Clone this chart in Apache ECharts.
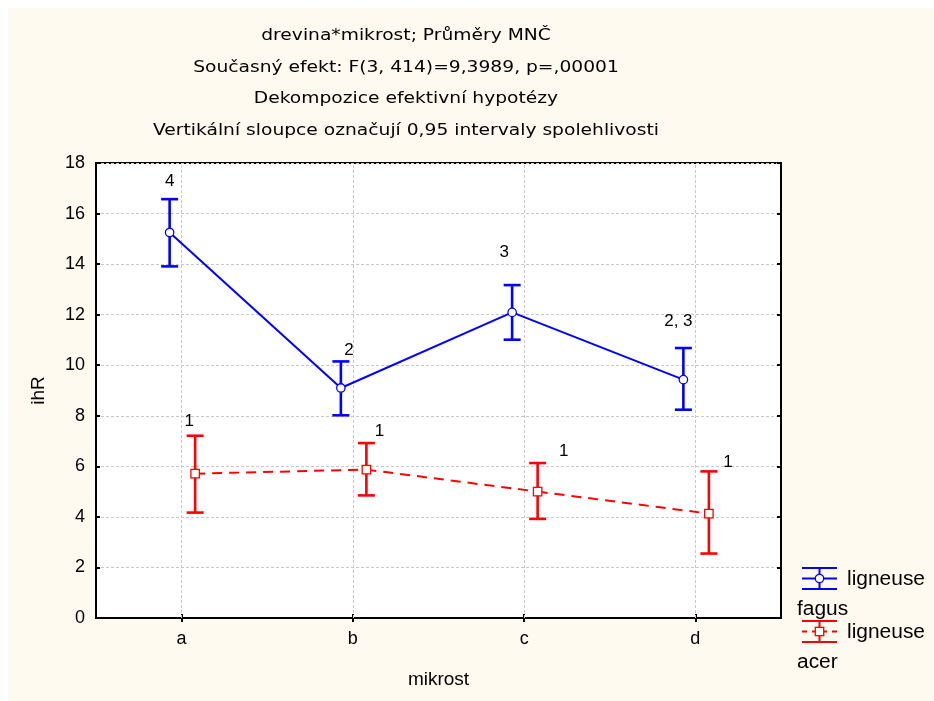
<!DOCTYPE html>
<html>
<head>
<meta charset="utf-8">
<script src="https://cdn.jsdelivr.net/npm/echarts@6/dist/echarts.min.js"></script>
<style>
html,body{margin:0;padding:0;background:#fff;}
#chart{width:934px;height:701px;}
</style>
</head>
<body>
<div id="chart"></div>
<script>
const categories = ['a', 'b', 'c', 'd'];
const yTicks = [0, 2, 4, 6, 8, 10, 12, 14, 16, 18];
const fagusMean = [15.25, 9.10, 12.09, 9.43];
const fagusLow  = [13.91, 8.02, 11.01, 8.24];
const fagusHigh = [16.57, 10.15, 13.17, 10.68];
const fagusGroups = ['4', '2', '3', '2, 3'];
const acerMean = [5.71, 5.87, 5.00, 4.13];
const acerLow  = [4.17, 4.85, 3.92, 2.55];
const acerHigh = [7.21, 6.92, 6.13, 5.80];
const acerGroups = ['1', '1', '1', '1'];

const titleLines = [
  'drevina*mikrost; Průměry MNČ',
  'Současný efekt: F(3, 414)=9,3989, p=,00001',
  'Dekompozice efektivní hypotézy',
  'Vertikální sloupce označují 0,95 intervaly spolehlivosti'
];
const legendNames = ['ligneuse\nfagus', 'ligneuse\nacer'];

// layout (pixels)
const FONT_T = '"DejaVu Sans", "Liberation Sans", Arial, sans-serif';
const FONT = '"Liberation Sans", Arial, sans-serif';
const fagusLayout = { dx: -12, labels: [[0, -51], [8, -38], [-8, -60], [-5, -58]] };
const acerLayout  = { dx: 13.5, labels: [[-6, -52], [13, -38], [26, -40], [19, -51]] };

const measureCtx = document.createElement('canvas').getContext('2d');
function textWidth(text, font) { measureCtx.font = font; return measureCtx.measureText(text).width; }

const titleFont = '15px ' + FONT_T;
const titleScale = 506 / textWidth(titleLines[3], titleFont);
const legendFont = '20px ' + FONT;
const legendScale = 78 / textWidth('ligneuse', legendFont);

function makeSeries(name, mean, low, high, groups, color, dashed, symbolType, layout) {
  const data = mean.map((m, i) => [i, m, low[i], high[i]]);
  return {
    type: 'custom',
    name: name,
    data: data,
    z: 5,
    renderItem: function (params, api) {
      const i = api.value(0);
      const p = api.coord([i, api.value(1)]);
      const lo = api.coord([i, api.value(2)]);
      const hi = api.coord([i, api.value(3)]);
      const x = p[0] + layout.dx;
      const children = [];
      if (i < mean.length - 1) {
        const q = api.coord([i + 1, mean[i + 1]]);
        children.push({
          type: 'line',
          shape: { x1: x, y1: p[1], x2: q[0] + layout.dx, y2: q[1] },
          style: { stroke: color, lineWidth: 2, lineDash: dashed ? [10, 7] : null }
        });
      }
      const cw = 8.5;
      children.push({ type: 'line', shape: { x1: x, y1: hi[1], x2: x, y2: lo[1] }, style: { stroke: color, lineWidth: 2.6 } });
      children.push({ type: 'line', shape: { x1: x - cw, y1: hi[1], x2: x + cw, y2: hi[1] }, style: { stroke: color, lineWidth: 2.6 } });
      children.push({ type: 'line', shape: { x1: x - cw, y1: lo[1], x2: x + cw, y2: lo[1] }, style: { stroke: color, lineWidth: 2.6 } });
      if (symbolType === 'circle') {
        children.push({ type: 'circle', shape: { cx: x, cy: p[1], r: 4.2 }, style: { fill: '#fff', stroke: color, lineWidth: 1.3 } });
      } else {
        children.push({ type: 'rect', shape: { x: x - 4.2, y: p[1] - 4.2, width: 8.4, height: 8.4 }, style: { fill: '#fff', stroke: color, lineWidth: 1.3 } });
      }
      const lb = layout.labels[i];
      children.push({
        type: 'text',
        style: { x: x + lb[0], y: p[1] + lb[1], text: groups[i], fill: '#000', font: '17px ' + FONT, align: 'center', verticalAlign: 'middle' }
      });
      return { type: 'group', children: children };
    }
  };
}

function legendGraphic(top, color, dashed, symbolType, label) {
  const parts = label.split('\n');
  const x0 = 802, x1 = 837, xm = 819.5;
  const els = [
    { type: 'line', shape: { x1: x0, y1: top, x2: x1, y2: top }, style: { stroke: color, lineWidth: 2 } },
    { type: 'line', shape: { x1: x0, y1: top + 21, x2: x1, y2: top + 21 }, style: { stroke: color, lineWidth: 2 } },
    { type: 'line', shape: { x1: xm, y1: top, x2: xm, y2: top + 21 }, style: { stroke: color, lineWidth: 2 } },
    { type: 'line', shape: { x1: x0, y1: top + 10.5, x2: x1, y2: top + 10.5 }, style: { stroke: color, lineWidth: 2, lineDash: dashed ? [5, 5] : null } }
  ];
  if (symbolType === 'circle') {
    els.push({ type: 'circle', shape: { cx: xm, cy: top + 10.5, r: 4.2 }, style: { fill: '#fff', stroke: color, lineWidth: 1.3 } });
  } else {
    els.push({ type: 'rect', shape: { x: xm - 4.2, y: top + 6.3, width: 8.4, height: 8.4 }, style: { fill: '#fff', stroke: color, lineWidth: 1.3 } });
  }
  els.push({ type: 'text', x: 847, y: top + 11, scaleX: legendScale, style: { x: 0, y: 0, text: parts[0], font: legendFont, fill: '#000', verticalAlign: 'middle' } });
  els.push({ type: 'text', x: 797, y: top + 41, scaleX: legendScale, style: { x: 0, y: 0, text: parts[1], font: legendFont, fill: '#000', verticalAlign: 'middle' } });
  return { type: 'group', children: els };
}

const titleGraphics = titleLines.map((t, i) => ({
  type: 'text', x: 406, y: 36 + i * 31.8, scaleX: titleScale,
  style: { x: 0, y: 0, text: t, font: titleFont, fill: '#000', align: 'center', verticalAlign: 'middle' }
}));

const chart = echarts.init(document.getElementById('chart'));
const axisLabelStyle = { color: '#000', fontSize: 18, fontFamily: FONT };
const option = {
  backgroundColor: '#fff',
  animation: false,
  graphic: [
    { type: 'rect', z: -100, silent: true, shape: { x: 8, y: 8, width: 926, height: 693 }, style: { fill: '#fffaef' } },
    ...titleGraphics,
    legendGraphic(568, '#0000ff', false, 'circle', legendNames[0]),
    legendGraphic(621, '#ff0000', true, 'rect', legendNames[1])
  ],
  grid: {
    left: 96, right: 153, top: 163, bottom: 83,
    show: true, backgroundColor: '#fff', borderColor: '#000', borderWidth: 2
  },
  xAxis: [
    {
      type: 'category', data: categories, boundaryGap: true,
      name: 'mikrost', nameLocation: 'middle', nameGap: 52,
      nameTextStyle: { color: '#000', fontSize: 19, fontFamily: FONT },
      axisLine: { show: true, lineStyle: { color: '#000', width: 2 } },
      axisTick: { show: true, inside: true, alignWithLabel: true, length: 4, lineStyle: { color: '#000', width: 2 } },
      axisLabel: Object.assign({ margin: 12 }, axisLabelStyle),
      splitLine: { show: false }
    },
    {
      type: 'category', data: categories, boundaryGap: true, position: 'top',
      axisLine: { show: true, lineStyle: { color: '#000', width: 2 } },
      axisTick: { show: true, inside: true, alignWithLabel: true, length: 4, lineStyle: { color: '#000', width: 2 } },
      axisLabel: { show: false }, splitLine: { show: false }
    }
  ],
  yAxis: [
    {
      type: 'value', min: yTicks[0], max: yTicks[yTicks.length - 1], interval: yTicks[1] - yTicks[0],
      name: 'ihR', nameLocation: 'middle', nameGap: 48, nameRotate: 90,
      nameTextStyle: { color: '#000', fontSize: 19, fontFamily: FONT },
      axisLine: { show: true, lineStyle: { color: '#000', width: 2 } },
      axisTick: { show: true, inside: true, length: 4, lineStyle: { color: '#000', width: 2 } },
      axisLabel: Object.assign({ margin: 11 }, axisLabelStyle),
      splitLine: { show: true, lineStyle: { color: '#c8c8c8', type: [3, 2], width: 1 } }
    },
    {
      type: 'value', min: yTicks[0], max: yTicks[yTicks.length - 1], interval: yTicks[1] - yTicks[0], position: 'right',
      axisLine: { show: true, lineStyle: { color: '#000', width: 2 } },
      axisTick: { show: true, inside: true, length: 4, lineStyle: { color: '#000', width: 2 } },
      axisLabel: { show: false }, splitLine: { show: false }
    }
  ],
  series: [
    {
      type: 'line', data: [], z: 1, silent: true,
      markLine: {
        silent: true, symbol: 'none', label: { show: false },
        lineStyle: { color: '#c8c8c8', type: [3, 2], width: 1 },
        data: categories.map(c => ({ xAxis: c }))
      }
    },
    makeSeries('ligneuse fagus', fagusMean, fagusLow, fagusHigh, fagusGroups, '#0000ff', false, 'circle', fagusLayout),
    makeSeries('ligneuse acer', acerMean, acerLow, acerHigh, acerGroups, '#ff0000', true, 'rect', acerLayout)
  ]
};
chart.setOption(option);
</script>
</body>
</html>
